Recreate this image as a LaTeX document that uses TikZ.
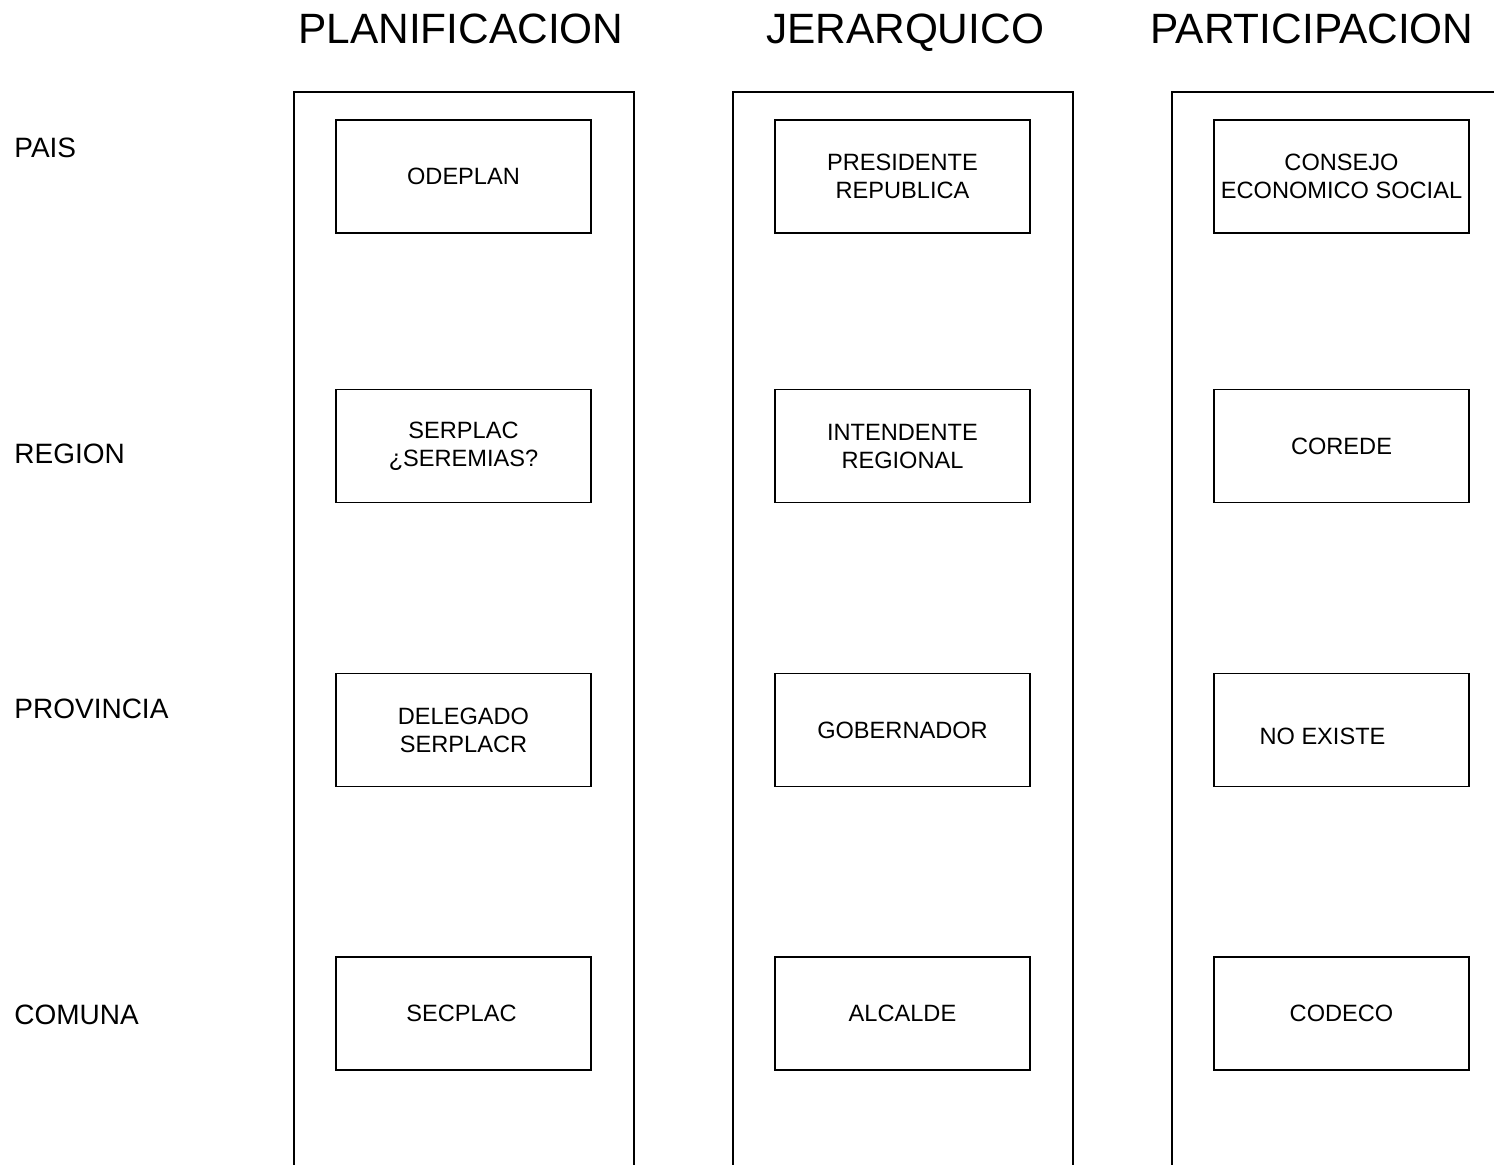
\documentclass[tikz,border=0pt]{standalone}
\usepackage{fontspec}
\setmainfont{Liberation Sans}
\usetikzlibrary{positioning}
\tikzset{
	caja/.style={draw,line width=0.7pt,minimum width=127.5pt,minimum height=56.5pt,inner sep=0pt,align=center,font=\fontsize{11.8}{14}\selectfont},
	nivel/.style={anchor=base west,inner sep=0pt,font=\fontsize{14}{16}\selectfont},
	titulo/.style={anchor=base,inner sep=0pt,font=\fontsize{21.2}{24}\selectfont},
	columna/.style={line width=0.7pt}
}

\begin{document}
\begin{tikzpicture}[x=0.5pt,y=-0.5pt]
	\useasboundingbox (0,0) rectangle (1494,1164);
	% titulos
	\node[titulo] (tplan) at (461,43) {PLANIFICACION};
	\node[titulo] (tjer) at (905,43) {JERARQUICO};
	\node[titulo] (tpart) at (1312,43) {PARTICIPACION};
	% niveles
	\node[nivel] (pais) at (14,157) {PAIS};
	\node[nivel] (region) at (14,463) {REGION};
	\node[nivel] (provincia) at (14,718) {PROVINCIA};
	\node[nivel] (comuna) at (14,1024) {COMUNA};
	% columnas
	\draw[columna] (294,1170) -- (294,92) -- (634,92) -- (634,1170);
	\draw[columna] (733,1170) -- (733,92) -- (1073,92) -- (1073,1170);
	\draw[columna] (1172,1170) -- (1172,92) -- (1500,92);
	% planificacion
	\node[caja] (odeplan) at (463.5,176.5) {ODEPLAN};
	\node[caja] (serplac) at (463.5,446) {SERPLAC\\¿SEREMIAS?};
	\node[caja] (delegado) at (463.5,730) {DELEGADO\\SERPLACR};
	\node[caja] (secplac) at (463.5,1013.5) {\hspace*{-2pt}SECPLAC};
	% jerarquico
	\node[caja] (presidente) at (902.5,176.5) {PRESIDENTE\\REPUBLICA};
	\node[caja] (intendente) at (902.5,446) {INTENDENTE\\REGIONAL};
	\node[caja] (gobernador) at (902.5,730) {GOBERNADOR};
	\node[caja] (alcalde) at (902.5,1013.5) {ALCALDE};
	% participacion
	\node[caja] (consejo) at (1341.5,176.5) {CONSEJO\\ECONOMICO SOCIAL};
	\node[caja] (corede) at (1341.5,446) {COREDE};
	\node[caja] (noexiste) at (1341.5,730) {\raisebox{-3pt}[\height][\depth]{NO EXISTE\hspace*{19pt}}};
	\node[caja] (codeco) at (1341.5,1013.5) {CODECO};
\end{tikzpicture}
\end{document}
